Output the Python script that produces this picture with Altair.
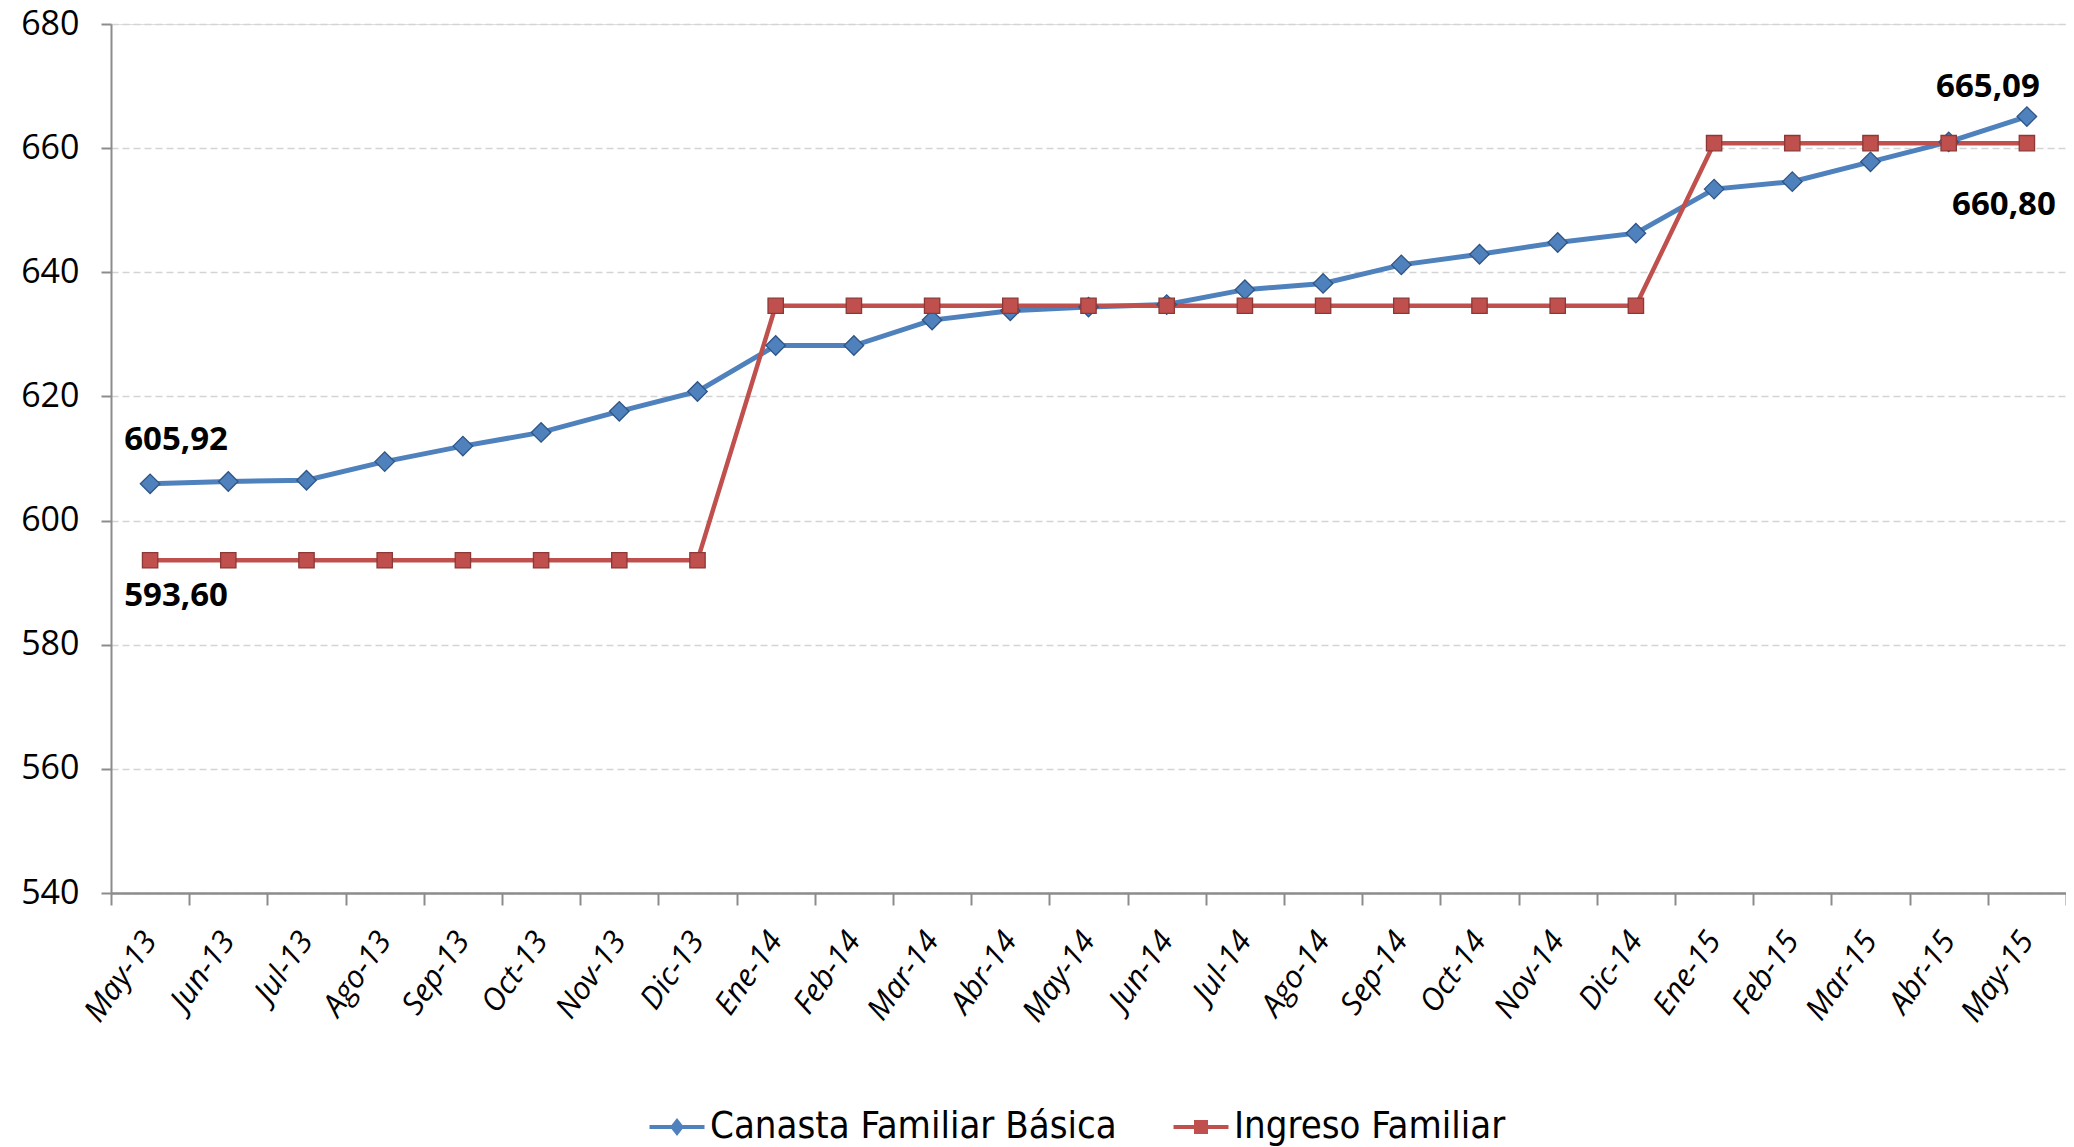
import altair as alt
import pandas as pd

months = ["May-13", "Jun-13", "Jul-13", "Ago-13", "Sep-13", "Oct-13", "Nov-13", "Dic-13",
          "Ene-14", "Feb-14", "Mar-14", "Abr-14", "May-14", "Jun-14", "Jul-14", "Ago-14",
          "Sep-14", "Oct-14", "Nov-14", "Dic-14", "Ene-15", "Feb-15", "Mar-15", "Abr-15", "May-15"]
canasta = [605.92, 606.3, 606.5, 609.5, 612.0, 614.2, 617.6, 620.8,
           628.2, 628.2, 632.3, 633.8, 634.4, 634.8, 637.2, 638.2,
           641.2, 642.9, 644.8, 646.3, 653.4, 654.6, 657.8, 661.0, 665.09]
ingreso = [593.60, 593.60, 593.60, 593.60, 593.60, 593.60, 593.60, 593.60,
           634.6, 634.6, 634.6, 634.6, 634.6, 634.6, 634.6, 634.6,
           634.6, 634.6, 634.6, 634.6, 660.80, 660.80, 660.80, 660.80, 660.80]
series_names = ["Canasta Familiar Básica", "Ingreso Familiar"]
y_ticks = [540, 560, 580, 600, 620, 640, 660, 680]
colors = ["#4F81BD", "#C0504D"]
strokes = ["#2F5585", "#8C3836"]
shapes = ["diamond", "square"]
sizes = [380, 235]
line_widths = [5, 4.5]

rows = []
for name, vals in zip(series_names, [canasta, ingreso]):
    for m, v in zip(months, vals):
        rows.append({"mes": m, "serie": name, "valor": v,
                     "texto": f"{v:.2f}".replace(".", ",")})
df = pd.DataFrame(rows)

x_enc = alt.X("mes:N", sort=months, bandPosition=0.5,
              scale=alt.Scale(type="band", paddingInner=0, paddingOuter=0),
              axis=alt.Axis(title=None, labelAngle=-55, tickBand="extent",
                            labelFont="Open Sans", labelFontStyle="italic",
                            labelFontSize=31, labelColor="#000000",
                            labelPadding=30, labelOffset=0, tickSize=12, tickColor="#8C8C8C",
                            tickWidth=2, domainColor="#8C8C8C", domainWidth=2.5,
                            grid=False, labelAlign="right", labelBaseline="middle"))
y_enc = alt.Y("valor:Q", scale=alt.Scale(domain=[540, 680], nice=False, zero=False),
              axis=alt.Axis(title=None, values=y_ticks, grid=True, gridDash=[7, 4],
                            gridColor="#D4D4D4", gridWidth=1.3,
                            labelFont="Open Sans", labelFontSize=34, labelColor="#000000",
                            labelPadding=22, tickSize=10, tickColor="#8C8C8C",
                            tickWidth=2, domainColor="#8C8C8C", domainWidth=2))

legend_diamond = "M-1.1,-0.08L1.1,-0.08L1.1,0.08L-1.1,0.08Z M0,-0.36L0.28,0L0,0.36L-0.28,0Z"
legend_square = "M-1.1,-0.08L1.1,-0.08L1.1,0.08L-1.1,0.08Z M-0.28,-0.28L0.28,-0.28L0.28,0.28L-0.28,0.28Z"

legend_layer = alt.Chart(df).transform_filter("datum.valor < 0").mark_point(
    filled=True, opacity=1).encode(
    x=x_enc, y=y_enc,
    color=alt.Color("serie:N", scale=alt.Scale(domain=series_names, range=colors),
                    legend=alt.Legend(
                        title=None, orient="none", direction="horizontal",
                        legendX=541, legendY=1078,
                        labelFont="Liberation Sans Narrow, DejaVu Sans Condensed, sans-serif",
                        labelFontSize=38, labelColor="#000000", labelLimit=800,
                        symbolSize=2500, columnPadding=56, labelOffset=8,
                        symbolStrokeWidth=0, symbolOpacity=1)),
    shape=alt.Shape("serie:N", scale=alt.Scale(domain=series_names,
                                               range=[legend_diamond, legend_square])),
)

layers = [legend_layer]
for i, name in enumerate(series_names):
    d = df[df["serie"] == name]
    layers.append(alt.Chart(d).mark_line(strokeWidth=line_widths[i], color=colors[i]).encode(x=x_enc, y=y_enc))
for i, name in enumerate(series_names):
    d = df[df["serie"] == name]
    layers.append(alt.Chart(d).mark_point(filled=True, opacity=1, shape=shapes[i], size=sizes[i],
                                          fill=colors[i], stroke=strokes[i], strokeWidth=1.3)
                  .encode(x=x_enc, y=y_enc))


def label(name, idx, dx, dy):
    d = df[(df["serie"] == name) & (df["mes"] == months[idx])]
    return alt.Chart(d).mark_text(font="Open Sans", fontWeight="bold", fontSize=33,
                                  color="#000000", dx=dx, dy=dy, align="center",
                                  baseline="middle").encode(x=x_enc, y=y_enc, text="texto:N")


layers += [
    label(series_names[0], 0, 26, -44),
    label(series_names[1], 0, 26, 36),
    label(series_names[0], len(months) - 1, -39, -30),
    label(series_names[1], len(months) - 1, -23, 62),
]

chart = alt.layer(*layers).properties(
    width=1955, height=869,
    padding={"left": 103, "top": 16, "right": 0, "bottom": 254},
    autosize=alt.AutoSizeParams(type="none"),
).configure_view(stroke=None).configure(background="white")

chart.save("out.html", embed_options={"renderer": "svg", "actions": False})
